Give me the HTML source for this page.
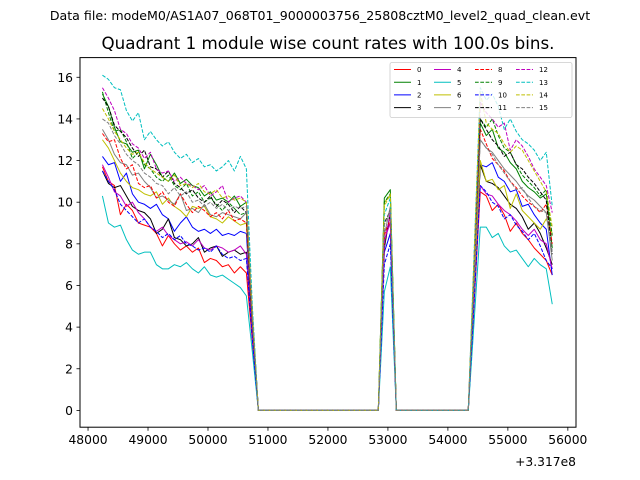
<!DOCTYPE html>
<html><head><meta charset="utf-8">
<style>
body{margin:0;background:#fff;}
svg{display:block;font-family:"DejaVu Sans","Liberation Sans",sans-serif;}
</style></head>
<body>
<svg id="chart" width="640" height="480" viewBox="0 0 640 480">
<text x="320" y="20" font-size="12.6" text-anchor="middle">Data file: modeM0/AS1A07_068T01_9000003756_25808cztM0_level2_quad_clean.evt</text>
<text x="328" y="49" font-size="16.7" text-anchor="middle">Quadrant 1 module wise count rates with 100.0s bins.</text>
<g id="series"></g>
<rect x="80" y="57.6" width="496" height="369.6" fill="none" stroke="#000" stroke-width="1"/>
<g id="axes"></g>
<text x="576" y="466" font-size="12.3" text-anchor="end">+3.317e8</text>
<g id="legend"></g>
</svg>
<script>
const t0 = 48240, binSize = 100;
const xTicks = [48000,49000,50000,51000,52000,53000,54000,55000,56000];
const yTicks = [0,2,4,6,8,10,12,14,16];
const names = ['0','1','2','3','4','5','6','7','8','9','10','11','12','13','14','15'];
const colors = ['red','green','blue','black','#bf00bf','#00bfbf','#bfbf00','gray','red','green','blue','black','#bf00bf','#00bfbf','#bfbf00','gray'];
// segment 1 (26 bins incl. drop), spike (2 bins), segment 2 (14 bins)
const seg1 = [
[11.7,11.0,10.8,9.4,9.9,9.6,9.0,8.9,8.8,8.5,7.9,8.4,8.0,7.7,7.9,7.6,7.8,7.1,7.3,7.2,6.9,7.0,6.6,6.9,6.6,3.3],
[15.2,14.6,13.6,12.9,12.8,12.4,12.5,11.6,12.3,11.8,11.2,11.0,11.4,10.9,11.1,10.8,10.7,10.3,10.5,10.1,10.2,10.0,10.3,9.8,10.0,4.6],
[12.2,11.8,11.9,11.0,11.4,10.4,10.0,9.9,9.7,9.9,9.4,9.2,8.6,9.0,9.3,8.8,8.6,8.7,8.5,8.7,8.4,8.5,8.4,8.6,8.5,4.0],
[11.5,10.9,10.7,10.8,10.3,9.8,9.6,9.5,9.2,8.5,8.7,9.2,8.3,8.2,7.9,8.0,8.3,7.6,7.8,7.9,7.4,7.6,7.7,7.5,7.6,3.6],
[11.8,11.2,10.5,10.3,9.8,10.0,9.5,9.2,8.8,8.6,8.8,8.4,8.2,8.0,8.1,7.9,8.2,7.8,7.7,7.9,7.8,7.6,7.7,7.9,7.5,3.5],
[10.3,9.0,8.8,8.9,8.2,7.7,7.5,7.6,7.6,7.0,6.8,6.8,7.0,6.9,7.1,6.8,6.6,6.9,6.5,6.4,6.5,6.3,6.1,5.9,5.5,2.8],
[13.0,12.6,12.0,11.4,11.0,10.7,10.6,10.4,10.3,10.5,9.9,10.2,9.8,9.6,9.3,9.8,9.7,9.8,9.3,9.2,9.0,9.3,9.1,8.9,9.0,4.2],
[13.5,13.0,12.3,11.9,11.8,11.3,11.4,11.0,10.7,10.2,10.3,10.1,9.9,10.4,9.6,9.7,9.5,9.9,9.4,9.3,9.5,9.4,9.3,9.2,9.5,4.4],
[13.3,12.9,13.0,12.1,11.6,11.8,10.9,10.7,10.8,10.2,10.5,10.0,9.8,10.4,9.9,9.5,9.8,9.6,9.3,9.5,9.2,9.6,9.1,9.2,9.0,4.3],
[15.3,14.3,13.4,13.5,12.9,12.1,12.4,11.8,11.6,11.2,11.0,11.3,10.8,10.6,10.9,10.3,10.5,10.0,10.2,9.9,9.6,10.0,9.7,9.4,9.5,4.5],
[11.5,11.0,10.6,9.9,9.6,9.3,9.0,9.2,8.8,8.6,8.3,8.5,8.2,8.4,8.0,7.9,7.7,7.8,7.6,7.9,7.5,7.3,7.4,7.2,7.3,3.4],
[15.0,14.6,13.7,13.4,13.1,12.6,12.2,12.5,11.7,11.6,11.2,11.5,10.9,10.7,10.4,10.6,10.2,10.0,10.3,9.8,10.1,9.9,9.5,9.8,9.5,4.4],
[15.5,15.0,14.4,13.5,13.3,12.8,12.6,12.1,12.4,11.6,11.4,11.5,11.0,11.2,10.9,10.8,10.6,10.8,10.3,10.5,10.8,10.0,10.2,10.3,10.0,4.7],
[16.1,15.9,15.5,15.4,14.4,13.9,14.3,13.0,13.4,13.0,12.7,12.9,12.4,12.1,12.3,11.9,12.1,11.7,11.8,11.5,11.7,12.0,11.5,12.2,11.6,5.0],
[14.5,14.0,13.4,13.0,12.6,12.3,12.4,11.9,11.6,11.4,11.2,11.0,11.3,10.8,10.9,10.7,10.9,10.5,10.4,10.6,10.2,10.3,10.1,10.2,10.0,4.6],
[14.0,13.8,13.2,12.8,12.3,12.0,11.8,11.4,11.2,10.9,10.8,10.4,10.7,10.3,10.5,10.0,10.1,9.8,10.0,9.7,9.9,9.6,9.8,9.7,9.8,4.5]
];
const spike = [
[8.6,9.0],[10.2,10.6],[7.6,8.5],[7.8,9.5],[8.2,9.0],[5.7,6.9],[10.0,10.3],[8.4,9.8],
[8.4,9.2],[10.0,10.4],[7.0,8.0],[9.0,9.6],[8.0,9.5],[9.4,10.2],[9.8,10.4],[8.9,9.6]
];
const seg2 = [
[5.3,10.5,10.3,9.6,9.9,9.4,8.6,9.0,8.5,8.2,7.8,7.5,7.2,6.5],
[6.9,13.8,13.2,13.5,12.6,12.4,11.9,11.6,11.0,10.7,10.5,10.2,10.4,7.8],
[5.9,11.8,11.7,11.9,11.2,11.0,10.5,10.6,9.8,9.9,9.4,9.0,8.7,6.5],
[5.9,11.8,11.0,10.9,10.7,10.3,9.9,9.7,9.3,8.7,9.0,8.5,7.8,7.0],
[5.4,10.8,10.4,10.3,9.9,9.6,9.4,9.1,8.7,8.4,8.7,8.2,8.0,6.8],
[4.4,8.8,8.8,8.3,8.5,7.9,7.6,7.7,7.3,6.9,7.3,7.0,6.8,5.1],
[6.0,12.0,11.0,11.1,10.6,10.8,9.7,10.4,9.6,9.3,9.0,8.7,9.2,8.5],
[6.5,13.0,12.6,12.4,12.0,11.6,11.3,11.0,10.6,10.3,10.1,9.8,9.5,7.2],
[6.8,13.5,12.8,12.1,11.8,11.5,11.0,10.7,10.3,10.0,9.8,9.5,9.9,8.0],
[7.0,14.0,13.6,14.0,13.2,12.6,12.4,11.8,11.3,11.0,10.7,10.3,10.6,8.4],
[5.4,10.8,10.5,10.0,9.8,9.2,9.4,8.9,8.6,8.2,8.5,7.9,7.2,6.8],
[7.0,14.0,13.5,13.0,12.7,12.2,12.4,11.8,11.6,11.2,10.9,10.5,10.1,7.5],
[7.4,14.8,14.3,14.0,13.6,13.8,12.5,13.0,12.7,12.2,11.6,11.2,10.8,9.5],
[7.8,15.5,14.9,15.2,14.6,13.5,14.0,13.4,13.0,12.8,12.5,12.0,12.4,9.8],
[7.6,15.3,13.8,13.5,13.3,12.8,12.4,12.7,12.5,12.0,11.5,11.0,10.5,8.8],
[6.5,13.0,12.6,12.3,11.8,11.4,11.0,10.6,10.7,10.2,9.8,9.6,9.5,7.6]
];
const gap1 = 21, gap2 = 13;

const NS = 'http://www.w3.org/2000/svg';
function xs(t){ return 80 + (t - 47866) * (496 / 8270); }
function ys(v){ return 410.4 - v * 20.82; }

const axes = document.getElementById('axes');
const sg = document.getElementById('series');
const lg = document.getElementById('legend');

function mk(tag, attrs, parent){
  const e = document.createElementNS(NS, tag);
  for (const k in attrs) e.setAttribute(k, attrs[k]);
  parent.appendChild(e);
  return e;
}

xTicks.forEach(function(t){
  const x = xs(t);
  const tk = mk('line', {x1:x, x2:x, y1:427.2, y2:430.7, stroke:'#000', 'stroke-width':0.8}, axes);
  
  
  const lb = mk('text', {x:x, y:444, 'font-size':12.3, 'text-anchor':'middle'}, axes);
  lb.textContent = t;
  
  
});
yTicks.forEach(function(v){
  const y = ys(v);
  const tk = mk('line', {x1:76.5, x2:80, y1:y, y2:y, stroke:'#000', 'stroke-width':0.8}, axes);
  
  
  const lb = mk('text', {x:73, y:y + 4.5, 'font-size':12.3, 'text-anchor':'end'}, axes);
  lb.textContent = v;
  
  
});

names.forEach(function(nm, i){
  const vals = [].concat(seg1[i], new Array(gap1).fill(0), spike[i], new Array(gap2).fill(0), seg2[i]);
  const pts = vals.map(function(v, k){ return xs(t0 + k * binSize).toFixed(2) + ',' + ys(v).toFixed(2); }).join(' ');
  const attrs = {points:pts, fill:'none', stroke:colors[i], 'stroke-width':1, 'stroke-linejoin':'round'};
  if (i >= 8) attrs['stroke-dasharray'] = '3.7,1.6';
  const pl = mk('polyline', attrs, sg);
  
  
});

const box = mk('rect', {x:390, y:62.5, width:182, height:55, fill:'#fff', 'fill-opacity':0.8, stroke:'#ccc', 'stroke-width':0.8, rx:2}, lg);


const colX = [394, 434, 475, 516];
names.forEach(function(nm, i){
  const c = Math.floor(i / 4), r = i % 4;
  const y = 69.5 + r * 12.7;
  const la = {x1:colX[c], x2:colX[c] + 17, y1:y, y2:y, stroke:colors[i], 'stroke-width':1};
  if (i >= 8) la['stroke-dasharray'] = '3.7,1.6';
  const ln = mk('line', la, lg);
  
  
  const tx = mk('text', {x:colX[c] + 23, y:y + 2.6, 'font-size':7}, lg);
  tx.textContent = nm;
  
  
});
</script>
</body></html>
